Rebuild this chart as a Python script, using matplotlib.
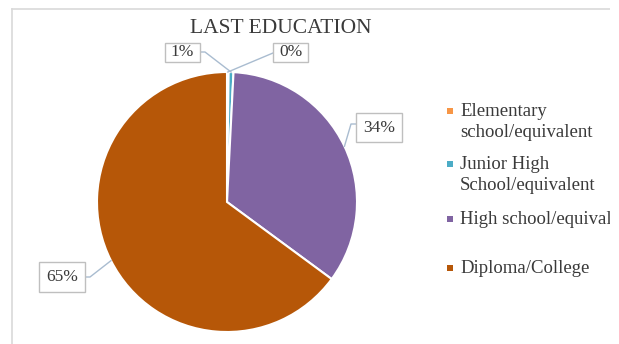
import matplotlib.pyplot as plt
from matplotlib.patches import Rectangle
import numpy as np

# data
categories = ['Elementary\nschool/equivalent', 'Junior High\nSchool/equivalent',
              'High school/equivalent', 'Diploma/College']
shares = [0.2, 0.6, 34.3, 64.9]
colors = ['#F79646', '#4BACC6', '#8064A2', '#B65708']
pct_labels = ['0%', '1%', '34%', '65%']

W, H = 619, 344
def Y(y):
    # image row -> axes y
    return H - y

fig = plt.figure(figsize=(W / 100, H / 100), dpi=100)
ax = fig.add_axes([0, 0, 1, 1])

cx, cy, r = 227, 202, 130
wedges, _ = ax.pie(shares, colors=colors, startangle=90, counterclock=False,
                   center=(cx, Y(cy)), radius=r,
                   wedgeprops=dict(edgecolor='white', linewidth=1.5))
ax.set_xlim(0, W)
ax.set_ylim(0, H)
ax.set_aspect('equal')
ax.axis('off')

serif = 'Liberation Serif'
txt_col = '#3A3A3A'

ax.text(281, Y(33), 'LAST EDUCATION', ha='center', va='baseline',
        fontsize=15.5, family=serif, color=txt_col)

# label boxes (left, top, width, height) and leader start points, in image pixels
boxes = {'0%': (273, 43, 35, 19), '1%': (165, 43, 35, 19),
         '34%': (356, 113, 46, 29), '65%': (39, 262, 46, 30)}
leaders = {'0%': [(273, 53)], '1%': [(200, 52), (205, 52)],
           '34%': [(356, 124), (351, 124)], '65%': [(85, 277), (90, 277)]}

for w, lab in zip(wedges, pct_labels):
    mid = np.deg2rad((w.theta1 + w.theta2) / 2)
    ax_pt = (cx + r * np.cos(mid), Y(cy) + r * np.sin(mid))
    pts = [(x, Y(y)) for x, y in leaders[lab]] + [ax_pt]
    xs, ys = zip(*pts)
    ax.plot(xs, ys, color='#A9BCD0', lw=1, zorder=3)
    bx, by, bw, bh = boxes[lab]
    ax.add_patch(Rectangle((bx, Y(by + bh)), bw, bh, facecolor='white',
                           edgecolor='#BFBFBF', lw=1, zorder=4))
    ax.text(bx + bw / 2, Y(by + bh / 2), lab, ha='center', va='center',
            fontsize=12.5, family=serif, color=txt_col, zorder=5)

# legend
leg_y = [111, 164, 219, 268]
for lab, col, ly in zip(categories, colors, leg_y):
    ax.add_patch(Rectangle((447, Y(ly + 3)), 6, 6, facecolor=col, edgecolor='none'))
    ax.text(460, Y(ly - 8), lab, ha='left', va='top', fontsize=13.5,
            family=serif, color=txt_col, linespacing=1.3)

# chart frame (cropped on the right)
ax.plot([12, 610], [Y(9), Y(9)], color='#D9D9D9', lw=1.2)
ax.plot([12, 12], [Y(9), 0], color='#D9D9D9', lw=1.2)
ax.add_patch(Rectangle((610, 0), 20, H, facecolor='white', edgecolor='none', zorder=10))

fig.savefig('out.png', dpi=100)
